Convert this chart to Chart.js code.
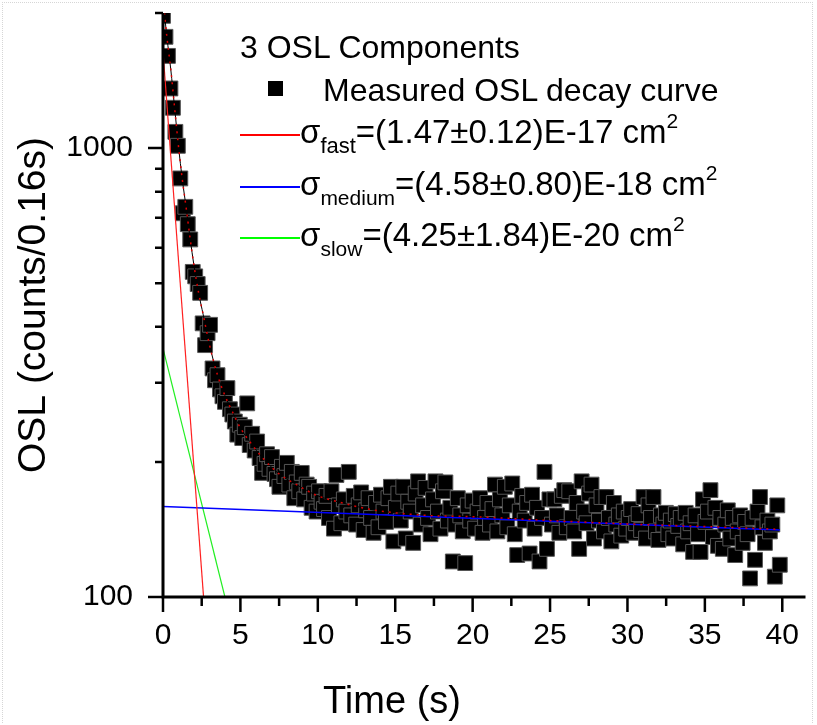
<!DOCTYPE html>
<html>
<head>
<meta charset="utf-8">
<script src="https://cdn.jsdelivr.net/npm/chart.js@4.4.1/dist/chart.umd.min.js"></script>
<style>
html,body{margin:0;padding:0;background:#fff;}
#wrap{position:relative;width:817px;height:725px;overflow:hidden;font-family:"Liberation Sans",Arial,Helvetica,sans-serif;color:#000;}
#frame{position:absolute;left:2px;top:2px;width:811px;height:721px;border-top:1px dotted #d6d6d6;border-left:1px dotted #d6d6d6;border-right:1px dotted #d6d6d6;box-sizing:border-box;}
canvas{position:absolute;left:0;top:0;}
.t{position:absolute;white-space:nowrap;line-height:1;}
.sub{font-size:21px;position:relative;top:10px;}
.sup{font-size:21px;position:relative;top:-15px;}
.ln{position:absolute;height:2px;width:60px;left:240px;}
</style>
</head>
<body>
<div id="wrap">
  <div id="frame"></div>
  <canvas id="c" width="817" height="725"></canvas>
  <div class="t" style="left:240px;top:31px;font-size:32px;">3 OSL Components</div>
  <div style="position:absolute;left:268px;top:81px;width:15px;height:15px;background:#000;"></div>
  <div class="t" style="left:323px;top:74px;font-size:32px;">Measured OSL decay curve</div>
  <div class="ln" style="top:134px;background:#ff0000;"></div>
  <div class="t" style="left:300px;top:115px;font-size:33px;">σ<span class="sub" style="font-size:22px;">fast</span>=(1.47±0.12)E-17 cm<span class="sup">2</span></div>
  <div class="ln" style="top:186px;background:#0000ff;"></div>
  <div class="t" style="left:300px;top:167px;font-size:33px;">σ<span class="sub">medium</span>=(4.58±0.80)E-18 cm<span class="sup">2</span></div>
  <div class="ln" style="top:237px;background:#00ff00;"></div>
  <div class="t" style="left:300px;top:218px;font-size:33px;">σ<span class="sub">slow</span>=(4.25±1.84)E-20 cm<span class="sup">2</span></div>
  <div class="t" style="left:392px;top:681px;font-size:38px;transform:translateX(-50%);">Time (s)</div>
</div>
<script>
// ---- data ----
const channelWidth = 0.16; // s per channel (counts/0.16s)
const measuredCounts = [
  1971, 1770, 1605, 1358, 1230, 1087, 1012, 856, 716, 740,
  677, 626, 530, 518, 498, 476, 407, 364, 387, 404,
  323, 304, 312, 290, 280, 272, 292, 262, 255, 246,
  230, 242, 226, 239, 270, 218, 231, 212, 222, 204,
  189, 198, 208, 193, 205, 188, 183, 176, 195, 186,
  199, 178, 190, 166, 180, 172, 189, 165, 178, 176,
  158, 170, 155, 172, 163, 157,
  168, 150, 172, 142, 187, 160, 146, 165, 155, 190,
  152, 168, 145, 160, 171, 141, 156, 166, 150, 139,
  162, 143, 169, 155, 147, 166, 176, 133, 158, 170,
  148, 176, 135, 163, 155, 132, 170, 181, 145, 160,
  175, 150, 138, 165, 181, 155, 142, 172, 180, 148,
  158, 120, 145, 166, 152, 140, 119, 160, 148, 164,
  142, 155, 166, 139, 150, 162, 145, 157, 178, 140,
  165, 152, 176, 143, 160, 179, 138, 124, 155, 168,
  148, 162, 125, 169, 142, 158, 120, 150, 190, 128,
  165, 145, 165, 152, 139, 168, 173, 143, 172, 150,
  140, 162, 128, 181, 155, 146, 170, 178, 135, 160,
  148, 167, 140, 167, 150, 133, 162, 145, 152, 137,
  155, 142, 150, 157, 139, 146, 153, 141, 167, 135,
  160, 150, 167, 140, 134, 152, 145, 154, 138, 148,
  135, 153, 144, 150, 131, 154, 140, 146, 126, 152,
  138, 126, 165, 147, 155, 173, 136, 158, 130, 150,
  128, 145, 156, 135, 150, 124, 140, 152, 132, 147,
  138, 110, 150, 121, 155, 167, 143, 132, 148, 140,
  145, 111, 160, 118
];
const fitTimes  = [0, 0.25, 0.5, 0.75, 1.0, 1.25, 1.5, 1.75, 2.0, 2.3, 2.6, 3.0, 3.5, 4.0, 4.5, 5.0, 5.6, 6.5, 7.5, 8.5, 10, 11.3, 13.5, 17, 20, 25, 30, 35, 39.84];
const fitCounts = [2150, 1770, 1500, 1230, 1010, 850, 735, 630, 548, 476, 425, 365, 314, 281, 258, 238, 222, 203, 188, 179, 168, 163, 156.5, 152, 151, 148, 145.5, 143.5, 141.5];
const fastTimes = [0, 2.62];     const fastCounts = [1640, 100];
const mediumTimes = [0, 39.84];  const mediumCounts = [159, 141];
const slowTimes = [0, 4.0];      const slowCounts = [358, 100];
const xTickValues = [0, 5, 10, 15, 20, 25, 30, 35, 40];
const xMinorTicks = [2.5, 7.5, 12.5, 17.5, 22.5, 27.5, 32.5, 37.5];
const yTickValues = [100, 1000];
const yMinorTicks = [200, 300, 400, 500, 600, 700, 800, 900, 2000];
const yTitle = 'OSL (counts/0.16s)';

const pts = (xs, ys) => xs.map((x, i) => ({x: x, y: ys[i]}));
const measured = measuredCounts.map((v, i) => ({x: +(i * channelWidth).toFixed(2), y: v}));

const FONT = '"Liberation Sans", Arial, Helvetica, sans-serif';
Chart.defaults.color = '#000';
Chart.defaults.font.family = FONT;

const axesPlugin = {
  id: 'axesPlugin',
  afterDatasetsDraw(chart) {
    const {ctx, chartArea: a} = chart;
    const x = chart.scales.x, y = chart.scales.y;
    ctx.save();
    ctx.strokeStyle = '#000';
    ctx.lineCap = 'butt';
    ctx.lineWidth = 3;
    ctx.beginPath();
    ctx.moveTo(a.left, a.top);
    ctx.lineTo(a.left, a.bottom + 1.5);
    ctx.moveTo(a.left - 1.5, a.bottom);
    ctx.lineTo(a.right, a.bottom);
    ctx.stroke();
    ctx.lineWidth = 2.5;
    ctx.beginPath();
    xTickValues.forEach(v => { const p = x.getPixelForValue(v); ctx.moveTo(p, a.bottom); ctx.lineTo(p, a.bottom + 15); });
    xMinorTicks.forEach(v => { const p = x.getPixelForValue(v); ctx.moveTo(p, a.bottom); ctx.lineTo(p, a.bottom + 9); });
    yTickValues.forEach(v => { const p = y.getPixelForValue(v); ctx.moveTo(a.left, p); ctx.lineTo(a.left - 15, p); });
    yMinorTicks.forEach(v => { const p = y.getPixelForValue(v); ctx.moveTo(a.left, p); ctx.lineTo(a.left - 8, p); });
    ctx.stroke();
    ctx.restore();
  }
};

new Chart(document.getElementById('c'), {
  type: 'scatter',
  data: {
    datasets: [
      {label: 'fast', data: pts(fastTimes, fastCounts), showLine: true, borderColor: '#ff2020', borderWidth: 1.2, pointRadius: 0, clip: 0, order: 1},
      {label: 'medium', data: pts(mediumTimes, mediumCounts), showLine: true, borderColor: '#0000ff', borderWidth: 1.5, pointRadius: 0, clip: 0, order: 1},
      {label: 'slow', data: pts(slowTimes, slowCounts), showLine: true, borderColor: '#22ee22', borderWidth: 1.2, pointRadius: 0, clip: 0, order: 1},
      {label: 'fit dots', data: pts(fitTimes, fitCounts), showLine: true, borderColor: '#dd0000', borderWidth: 1.5, borderDash: [2, 5], cubicInterpolationMode: 'monotone', pointRadius: 0, clip: 0, order: 0},
      {label: 'fit', data: pts(fitTimes, fitCounts), showLine: true, borderColor: '#000', borderWidth: 1, cubicInterpolationMode: 'monotone', pointRadius: 0, clip: 0, order: 2},
      {label: 'Measured OSL decay curve', data: measured, showLine: false, pointStyle: 'rect', pointRadius: 10.5, pointBackgroundColor: '#000', pointBorderColor: '#555', pointBorderWidth: 1, clip: 0, order: 10}
    ]
  },
  options: {
    responsive: false,
    animation: false,
    events: [],
    layout: {padding: {left: 0, top: 13, right: 4, bottom: 0}},
    plugins: {legend: {display: false}, tooltip: {enabled: false}},
    scales: {
      x: {
        type: 'linear', min: 0, max: 41.5,
        grid: {display: false, drawTicks: false},
        border: {display: false},
        afterBuildTicks: s => { s.ticks = xTickValues.map(v => ({value: v})); },
        afterFit: s => { s.height = 128; s.paddingLeft = 0; s.paddingRight = 0; },
        ticks: {font: {size: 30, family: FONT}, color: '#000', padding: 21, maxRotation: 0, autoSkip: false, callback: v => String(v)}
      },
      y: {
        type: 'logarithmic', min: 100, max: 2000,
        grid: {display: false, drawTicks: false},
        border: {display: false},
        afterBuildTicks: s => { s.ticks = yTickValues.map(v => ({value: v})); },
        afterFit: s => { s.width = 163; s.paddingTop = 0; s.paddingBottom = 0; },
        ticks: {font: {size: 30, family: FONT}, color: '#000', padding: 30, autoSkip: false, callback: v => String(v)},
        title: {display: true, text: yTitle, font: {size: 39, family: FONT}, color: '#000', padding: {top: 11, bottom: 0}}
      }
    }
  },
  plugins: [axesPlugin]
});
</script>
</body>
</html>
